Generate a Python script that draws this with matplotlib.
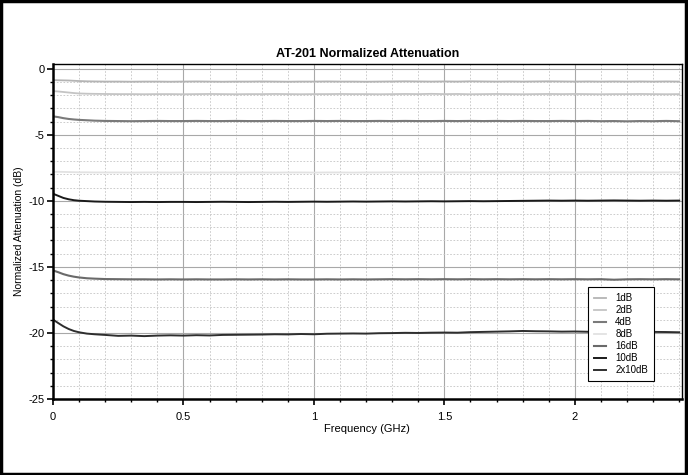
import matplotlib
matplotlib.use("Agg")
import matplotlib.pyplot as plt
from matplotlib.patches import Rectangle
from matplotlib.ticker import MultipleLocator

plt.rcParams["font.family"] = ["Liberation Sans", "DejaVu Sans"]
plt.rcParams["axes.unicode_minus"] = False

# frequency points (GHz)
freq = [0.005, 0.02, 0.04, 0.06, 0.08, 0.10, 0.13, 0.16, 0.20,
        0.25, 0.30, 0.35, 0.40, 0.45, 0.50, 0.55, 0.60, 0.65, 0.70,
        0.75, 0.80, 0.85, 0.90, 0.95, 1.00, 1.05, 1.10, 1.15, 1.20,
        1.25, 1.30, 1.35, 1.40, 1.45, 1.50, 1.55, 1.60, 1.65, 1.70,
        1.75, 1.80, 1.85, 1.90, 1.95, 2.00, 2.05, 2.10, 2.15, 2.20,
        2.25, 2.30, 2.35, 2.40]

att_1db = [-0.86, -0.87, -0.88, -0.89, -0.91, -0.93, -0.95, -0.96, -0.97,
           -0.97, -0.98, -0.97, -0.97, -0.98, -0.97, -0.96, -0.97, -0.98, -0.97,
           -0.97, -0.96, -0.97, -0.98, -0.97, -0.97, -0.96, -0.97, -0.97, -0.98,
           -0.97, -0.96, -0.95, -0.96, -0.97, -0.96, -0.97, -0.95, -0.96, -0.97,
           -0.96, -0.97, -0.96, -0.95, -0.96, -0.97, -0.96, -0.97, -0.96, -0.97,
           -0.96, -0.97, -0.96, -0.97]
att_2db = [-1.70, -1.72, -1.76, -1.80, -1.84, -1.87, -1.89, -1.90, -1.91,
           -1.92, -1.92, -1.93, -1.92, -1.92, -1.93, -1.92, -1.91, -1.92, -1.93,
           -1.92, -1.92, -1.91, -1.92, -1.93, -1.92, -1.92, -1.91, -1.92, -1.92,
           -1.93, -1.92, -1.91, -1.92, -1.90, -1.92, -1.91, -1.93, -1.92, -1.91,
           -1.92, -1.93, -1.92, -1.91, -1.92, -1.91, -1.92, -1.93, -1.92, -1.92,
           -1.91, -1.92, -1.93, -1.92]
att_4db = [-3.62, -3.66, -3.74, -3.80, -3.84, -3.87, -3.90, -3.93, -3.95,
           -3.96, -3.97, -3.96, -3.95, -3.96, -3.96, -3.95, -3.96, -3.96, -3.95,
           -3.96, -3.96, -3.95, -3.96, -3.96, -3.95, -3.96, -3.95, -3.96, -3.96,
           -3.95, -3.96, -3.95, -3.96, -3.96, -3.95, -3.96, -3.95, -3.96, -3.95,
           -3.96, -3.95, -3.96, -3.96, -3.95, -3.96, -3.95, -3.97, -3.96, -3.98,
           -3.96, -3.97, -3.95, -3.97]
att_8db = [-7.80, -7.80, -7.81, -7.82, -7.83, -7.84, -7.84, -7.85, -7.85,
           -7.85, -7.86, -7.85, -7.85, -7.86, -7.85, -7.85, -7.86, -7.85, -7.86,
           -7.85, -7.85, -7.86, -7.85, -7.85, -7.86, -7.85, -7.85, -7.86, -7.85,
           -7.85, -7.84, -7.85, -7.85, -7.84, -7.85, -7.84, -7.85, -7.84, -7.85,
           -7.84, -7.85, -7.84, -7.85, -7.84, -7.85, -7.84, -7.85, -7.84, -7.85,
           -7.84, -7.85, -7.84, -7.85]
att_16db = [-15.30, -15.40, -15.55, -15.66, -15.74, -15.80, -15.86, -15.89, -15.92,
            -15.93, -15.94, -15.94, -15.95, -15.94, -15.95, -15.94, -15.95, -15.95, -15.94,
            -15.95, -15.94, -15.95, -15.94, -15.95, -15.95, -15.94, -15.95, -15.94, -15.95,
            -15.94, -15.93, -15.94, -15.93, -15.94, -15.93, -15.94, -15.93, -15.94, -15.93,
            -15.94, -15.93, -15.94, -15.93, -15.94, -15.93, -15.94, -15.93, -15.97, -15.94,
            -15.93, -15.94, -15.93, -15.94]
att_10db = [-9.50, -9.62, -9.78, -9.88, -9.95, -9.99, -10.02, -10.05, -10.07,
            -10.08, -10.09, -10.08, -10.09, -10.08, -10.08, -10.09, -10.08, -10.07, -10.08,
            -10.09, -10.08, -10.07, -10.08, -10.07, -10.06, -10.07, -10.06, -10.05, -10.06,
            -10.05, -10.04, -10.05, -10.04, -10.03, -10.04, -10.03, -10.02, -10.03, -10.02,
            -10.01, -10.00, -9.99, -9.98, -9.99, -9.98, -9.99, -9.98, -9.97, -9.98,
            -9.99, -9.98, -9.99, -9.98]
att_2x10db = [-19.05, -19.25, -19.50, -19.70, -19.85, -19.95, -20.05, -20.10, -20.15,
              -20.22, -20.20, -20.24, -20.20, -20.18, -20.20, -20.17, -20.19, -20.15, -20.14,
              -20.13, -20.12, -20.10, -20.11, -20.08, -20.10, -20.06, -20.05, -20.04, -20.05,
              -20.02, -20.01, -19.99, -20.00, -19.98, -19.97, -19.98, -19.94, -19.92, -19.90,
              -19.88, -19.85, -19.87, -19.88, -19.90, -19.89, -19.91, -19.90, -19.92, -19.91,
              -19.90, -19.92, -19.93, -19.95]

labels = ["1dB", "2dB", "4dB", "8dB", "16dB", "10dB", "2x10dB"]
series = [att_1db, att_2db, att_4db, att_8db, att_16db, att_10db, att_2x10db]
colors = ["#b4b4b4", "#c4c4c4", "#7a7a7a", "#e2e2e2", "#6a6a6a", "#1a1a1a", "#2e2e2e"]
widths = [1.3, 1.3, 1.5, 1.3, 1.5, 1.4, 1.4]

fig = plt.figure(figsize=(6.88, 4.75), dpi=100)
ax = fig.add_axes([0.077, 0.16, 0.914, 0.705])

for vals, lab, c, lw in zip(series, labels, colors, widths):
    ax.plot(freq, vals, color=c, lw=lw, label=lab)

ax.set_xlim(0, 2.41)
ax.set_ylim(-25, 0.35)
ax.set_xticks([0, 0.5, 1, 1.5, 2])
ax.set_xticklabels(["0", "0.5", "1", "1.5", "2"])
ax.set_yticks([0, -5, -10, -15, -20, -25])
ax.set_yticklabels(["0", "-5", "-10", "-15", "-20", "-25"])
ax.xaxis.set_minor_locator(MultipleLocator(0.1))
ax.yaxis.set_minor_locator(MultipleLocator(1))

ax.grid(True, which="major", color="#a8a8a8", lw=0.8, ls="-")
ax.grid(True, which="minor", color="#c4c4c4", lw=0.6, ls=(0, (2, 2)))
ax.set_axisbelow(True)

ax.tick_params(which="major", length=4, width=1.2, labelsize=8)
ax.tick_params(axis="x", which="major", pad=5)
ax.tick_params(axis="y", which="major", pad=2)
ax.tick_params(which="minor", length=2, width=1)
for side in ["left", "bottom"]:
    ax.spines[side].set_linewidth(1.8)
for side in ["top", "right"]:
    ax.spines[side].set_linewidth(1)

ax.set_title("AT-201 Normalized Attenuation", fontsize=9, fontweight="bold", pad=5)
ax.set_xlabel("Frequency (GHz)", fontsize=8, labelpad=2)
ax.set_ylabel("Normalized Attenuation (dB)", fontsize=7.5, labelpad=3)

leg = ax.legend(loc="lower left", bbox_to_anchor=(0.843, 0.04), fontsize=7,
                frameon=True, fancybox=False, edgecolor="black", framealpha=1,
                handlelength=1.3, handletextpad=0.9, labelspacing=0.2, borderpad=0.6)
leg.get_frame().set_linewidth(0.8)

fig.patches.append(Rectangle((0.002, 0.003), 0.995, 0.994, transform=fig.transFigure,
                             fill=False, edgecolor="black", lw=2.5))

fig.savefig("out.png", dpi=100)
